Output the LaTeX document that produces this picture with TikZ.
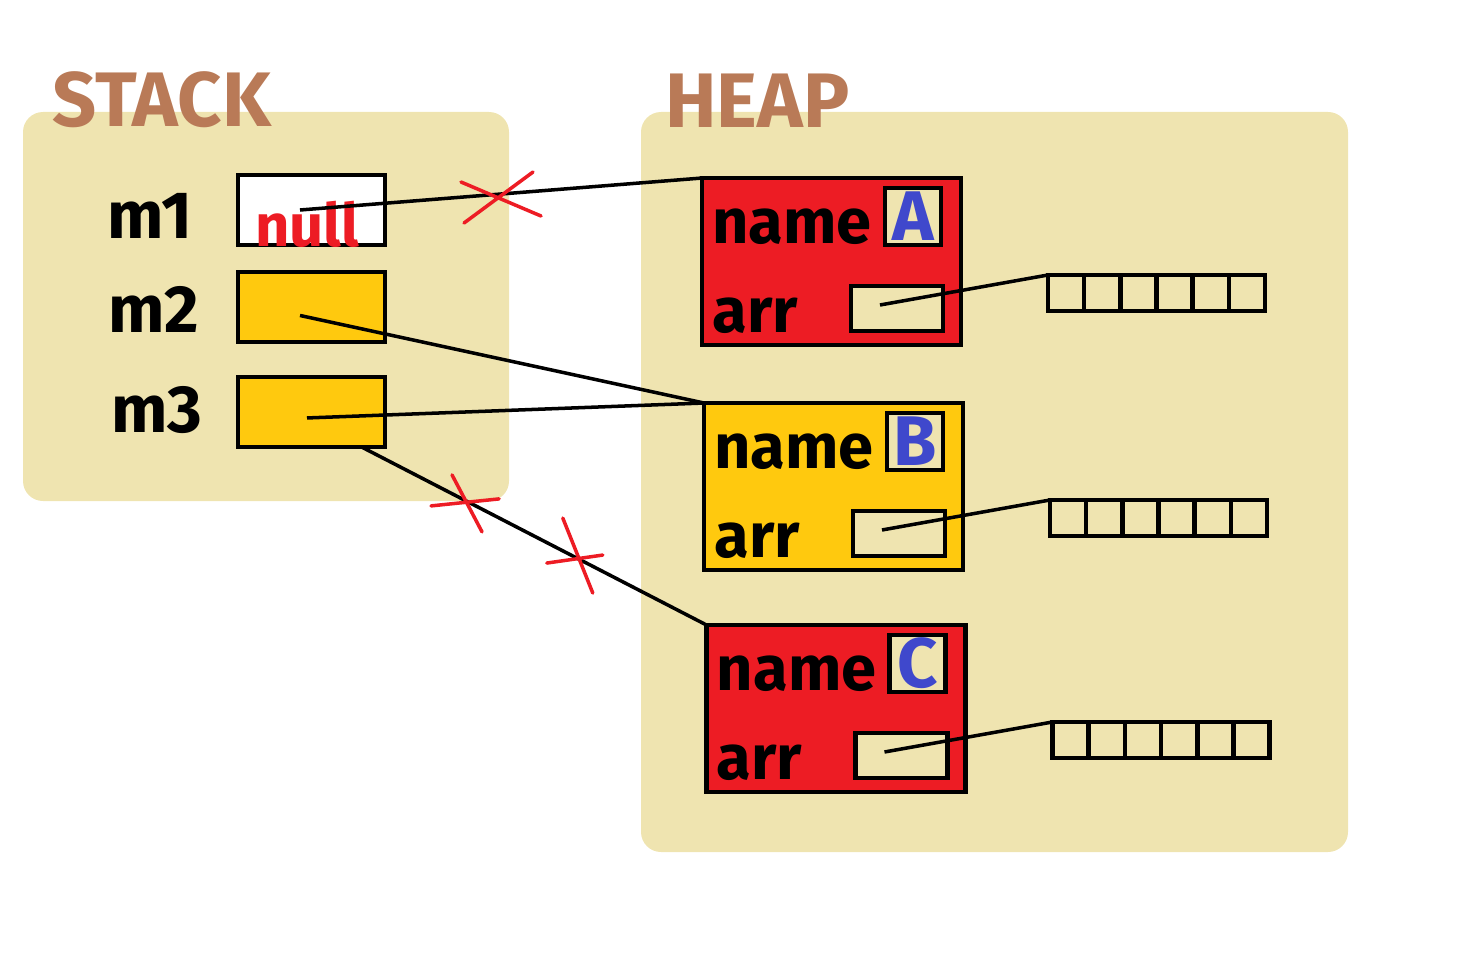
\documentclass[tikz,border=0pt]{standalone}
\usepackage{fontspec}
\setmainfont{Fira Sans}
\usepackage{xcolor}
\usepackage{tikz}
\usetikzlibrary{positioning,calc}
\definecolor{colBg}{HTML}{EFE4B0}
\definecolor{colRed}{HTML}{ED1C24}
\definecolor{colYel}{HTML}{FFC90E}
\definecolor{colBlue}{HTML}{3F48CC}
\definecolor{colBrown}{HTML}{B97A57}
\newcommand{\fsz}[1]{\fontsize{#1}{#1}\selectfont\bfseries}

\begin{document}
\begin{tikzpicture}[x=0.02cm,y=-0.02cm,
  area/.style={fill=colBg,rounded corners=0.4cm},
  title/.style={font=\fsz{44},text=colBrown,anchor=south west,inner sep=0pt},
  var/.style={font=\fsz{38},inner sep=0pt},
  slot/.style={draw,line width=2.6pt,minimum width=2.94cm,minimum height=1.4cm,
               inner sep=0pt,outer sep=0pt},
  obj/.style={draw,line width=2.6pt,minimum width=5.18cm,minimum height=3.34cm,
              inner sep=0pt,outer sep=0pt},
  field/.style={font=\fsz{36},anchor=base west,inner sep=0pt},
  namebox/.style={draw,fill=colBg,line width=2.6pt,minimum width=1.12cm,minimum height=1.14cm,
                  inner sep=0pt,outer sep=0pt,font=\fsz{40},text=colBlue},
  arrbox/.style={draw,fill=colBg,line width=2.6pt,minimum width=1.84cm,minimum height=0.9cm,
                 inner sep=0pt,outer sep=0pt},
  cell/.style={draw,line width=2.6pt,minimum width=0.724cm,minimum height=0.72cm,
               inner sep=0pt,outer sep=0pt},
  ptr/.style={line width=2pt},
  xmark/.style={draw=colRed,line width=2pt,line cap=round}
]
  \useasboundingbox (0,0) rectangle (1458,980);
  \fill[area] (23,112) rectangle (509,501);
  \fill[area] (641,112) rectangle (1348,852);
  \node[title] (stk) at (52,128) {STACK};
  \node[title] (hp) at (665,128) {HEAP};

  % stack slots
  \node[slot,fill=white] (m1box) at (311.5,210) {};
  \node[slot,fill=colYel,below=0.54cm of m1box] (m2box) {};
  \node[slot,fill=colYel,below=0.7cm of m2box] (m3box) {};
  \node[var] (m1) at (150,216) {m1};
  \node[var] (m2) at (154,309) {m2};
  \node[var] (m3) at (157,410) {m3};
  \node[font=\fsz{34},text=colRed,anchor=base west,inner sep=0pt] (nul) at (255,246) {null};

  % heap objects
  \foreach \o/\col/\cx/\cy in {A/colRed/831.5/261.5,B/colYel/833.5/486.5,C/colRed/836/708.5}{
    \node[obj,fill=\col] (obj\o) at (\cx,\cy) {};
    \node[namebox,below left=0.2cm and 0.4cm of obj\o.north east] (nm\o) {\o};
    \node[arrbox,above left=0.28cm and 0.36cm of obj\o.south east] (ar\o) {};
    \node[field] (lbn\o) at ($(obj\o.north west)+(10,65)$) {name};
    \node[field] (lba\o) at ($(obj\o.south west)+(10,-12)$) {arr};
    \foreach \i in {1,...,6}
      \node[cell] (c\o\i) at ($(obj\o.east)+(68.9+36.2*\i,31.5)$) {};
    \draw[ptr] ([xshift=-0.34cm,yshift=0.07cm]ar\o.center) -- (c\o1.north west);
  }

  % references
  \draw[ptr] ([xshift=-0.23cm]m1box.center) -- coordinate[pos=0.5] (x1) (objA.north west);
  \draw[ptr] ([xshift=-0.23cm,yshift=-0.17cm]m2box.center) -- (objB.north west);
  \draw[ptr] ([xshift=-0.09cm,yshift=-0.12cm]m3box.center) -- (objB.north west);
  \draw[ptr] ([xshift=1cm]m3box.south) -- coordinate[pos=0.303] (x2)
    coordinate[pos=0.624] (x3) (objC.north west);

  \draw[xmark] ($(x1)+(-40,-12)$) -- ($(x1)+(40,22)$) ($(x1)+(-37,29)$) -- ($(x1)+(32,-22)$);
  \draw[xmark] ($(x2)+(-35,5)$) -- ($(x2)+(33,-2)$) ($(x2)+(-14,-26)$) -- ($(x2)+(16,31)$);
  \draw[xmark] ($(x3)+(-30,5)$) -- ($(x3)+(26,-3)$) ($(x3)+(-14,-40)$) -- ($(x3)+(16,35)$);
\end{tikzpicture}
\end{document}
